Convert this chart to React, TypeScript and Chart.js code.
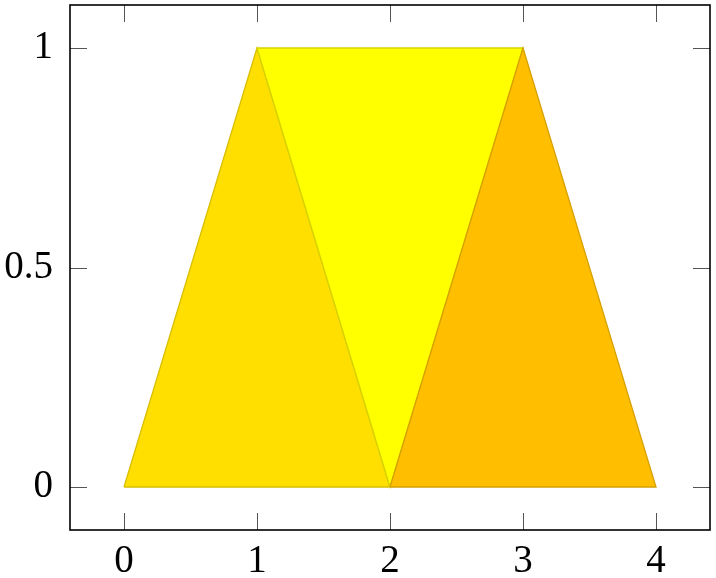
import React, { useEffect, useRef } from 'react';
import { Chart, registerables } from 'chart.js';

Chart.register(...registerables);

// three patches (triangles), vertices in data coords, closed back to the first vertex
const leftTriangleX = [0, 1, 2, 0];
const leftTriangleY = [0, 1, 0, 0];
const midTriangleX = [1, 2, 3, 1];
const midTriangleY = [1, 0, 1, 1];
const rightTriangleX = [2, 3, 4, 2];
const rightTriangleY = [0, 1, 0, 0];

const xTicks = [0, 1, 2, 3, 4];
const yTicks = [0, 0.5, 1];

const FONT = { family: '"Liberation Serif", "Times New Roman", serif', size: 39 };

const toPoints = (xs: number[], ys: number[]) => xs.map((x, i) => ({ x, y: ys[i] }));

// pgfplots style frame: box + inward ticks on all four sides
const framePlugin = {
    id: 'frame',
    afterDraw(chart: any) {
        const { ctx, chartArea: a, scales } = chart;
        const len = 17;
        ctx.save();
        ctx.strokeStyle = '#555';
        ctx.lineWidth = 1;
        ctx.beginPath();
        xTicks.forEach(v => {
            const px = Math.round(scales.x.getPixelForValue(v)) + 0.5;
            ctx.moveTo(px, a.bottom); ctx.lineTo(px, a.bottom - len);
            ctx.moveTo(px, a.top); ctx.lineTo(px, a.top + len);
        });
        yTicks.forEach(v => {
            const py = Math.round(scales.y.getPixelForValue(v)) + 0.5;
            ctx.moveTo(a.left, py); ctx.lineTo(a.left + len, py);
            ctx.moveTo(a.right, py); ctx.lineTo(a.right - len, py);
        });
        ctx.stroke();
        ctx.strokeStyle = '#000';
        ctx.lineWidth = 1.6;
        ctx.strokeRect(a.left, a.top, a.right - a.left, a.bottom - a.top);
        ctx.restore();
    }
};

const patch = (xs: number[], ys: number[], bg: string, border: string, order: number) => ({
    data: toPoints(xs, ys),
    fill: 'shape',
    backgroundColor: bg,
    borderColor: border,
    borderWidth: 1.3,
    pointRadius: 0,
    tension: 0,
    order,
});

const noPadding = (s: any) => {
    s.paddingTop = 0;
    s.paddingBottom = 0;
    s.paddingLeft = 0;
    s.paddingRight = 0;
};

const App: React.FC = () => {
    const canvasRef = useRef<HTMLCanvasElement>(null);

    useEffect(() => {
        if (!canvasRef.current) return;
        const chart = new Chart(canvasRef.current, {
            type: 'line',
            data: {
                datasets: [
                    patch(leftTriangleX, leftTriangleY, '#FFDF00', '#D8BE00', 3),
                    patch(midTriangleX, midTriangleY, '#FFFF00', '#D6D300', 2),
                    patch(rightTriangleX, rightTriangleY, '#FFBF00', '#D6A000', 1),
                ] as any,
            },
            options: {
                animation: false,
                responsive: false,
                layout: { autoPadding: false, padding: { top: 5, right: 6, left: 0, bottom: 0 } },
                plugins: { legend: { display: false }, tooltip: { enabled: false } },
                scales: {
                    x: {
                        type: 'linear',
                        min: -0.406,
                        max: 4.406,
                        afterBuildTicks: (s: any) => { s.ticks = xTicks.map(v => ({ value: v })); },
                        afterFit: (s: any) => { s.height = 48; noPadding(s); },
                        grid: { display: false, drawTicks: false },
                        border: { display: false },
                        ticks: { color: '#000', font: FONT, padding: 8, maxRotation: 0, callback: (v: any) => String(v) },
                    },
                    y: {
                        type: 'linear',
                        min: -0.098,
                        max: 1.098,
                        afterBuildTicks: (s: any) => { s.ticks = yTicks.map(v => ({ value: v })); },
                        afterFit: (s: any) => { s.width = 70; noPadding(s); },
                        grid: { display: false, drawTicks: false },
                        border: { display: false },
                        ticks: { color: '#000', font: FONT, padding: 17, callback: (v: any) => String(v) },
                    },
                },
            },
            plugins: [framePlugin],
        });
        return () => chart.destroy();
    }, []);

    return (
        <div style={{ position: 'fixed', left: 0, top: 0, width: 716, height: 578, background: '#fff' }}>
            <canvas ref={canvasRef} width={716} height={578} />
        </div>
    );
};

export default App;
